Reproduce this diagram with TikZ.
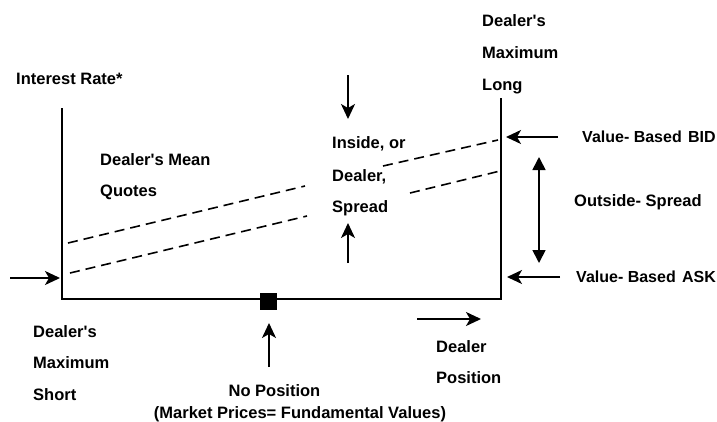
\documentclass[tikz,border=0pt]{standalone}
\usepackage{fontspec}
\setmainfont{Liberation Sans}
\usetikzlibrary{arrows.meta}
\newcommand{\aps}{\textquotesingle}
\begin{document}
\begin{tikzpicture}[x=1pt,y=-1pt,
  lbl/.style={font=\bfseries\fontsize{16.5}{19}\selectfont, inner sep=0pt,
              text height=11.8pt, text depth=0pt, anchor=west},
  quotelbl/.style={lbl, font=\bfseries\fontsize{16}{19}\selectfont},
  mid/.style={lbl, anchor=center},
  axis/.style={line width=1.8pt},
  ptr/.style={line width=1.7pt, -{Stealth[length=15pt,width=14pt,inset=4pt]}},
  quote/.style={line width=1.6pt, dash pattern=on 10pt off 6pt},
  span/.style={line width=1.7pt,
               {Triangle[length=13pt,width=13pt]}-{Triangle[length=13pt,width=13pt]}}]
\useasboundingbox (0,0) rectangle (717,421);

% position axis and the two position limits
\coordinate (tl) at (62,108);
\coordinate (bl) at (62,299);
\coordinate (br) at (501,299);
\coordinate (tr) at (501,98);
\draw[axis] (tl) -- (bl) -- (br) -- (tr);
\node[fill=black, minimum size=17pt, inner sep=0pt] (zero) at (268,301.5) {};

% mean bid and ask quotes
\coordinate (qa1) at (68,243);  \coordinate (qa2) at (305,186);
\coordinate (qa3) at (383,166); \coordinate (qa4) at (498,140);
\coordinate (qb1) at (70,273);  \coordinate (qb2) at (307,216);
\coordinate (qb3) at (410,193); \coordinate (qb4) at (500,171);
\draw[quote] (qa1) -- (qa2) (qa3) -- (qa4);
\draw[quote] (qb1) -- (qb2) (qb3) -- (qb4);

% labels
\node[lbl] (rate)  at (16,79)  {Interest Rate*};
\node[lbl] (mean1) at (100,160) {Dealer\aps s Mean};
\node[lbl] (mean2) at (100,191) {Quotes};
\node[lbl] (long1) at (482,21) {Dealer\aps s};
\node[lbl] (long2) at (482,53) {Maximum};
\node[lbl] (long3) at (482,85) {Long};
\node[lbl] (ins1)  at (332,143) {Inside, or};
\node[lbl] (ins2)  at (332,176) {Dealer,};
\node[lbl] (ins3)  at (332,207) {Spread};
\node[quotelbl] (bid) at (582,137) {Value- Based\hspace{6.4pt}BID};
\node[lbl] (out)   at (574,201) {Outside- Spread};
\node[quotelbl] (ask) at (576,277) {Value- Based\hspace{6.4pt}ASK};
\node[lbl] (short1) at (33,332) {Dealer\aps s};
\node[lbl] (short2) at (33,363) {Maximum};
\node[lbl] (short3) at (33,395) {Short};
\node[mid] (nopos) at (274.5,391) {No Position};
\node[mid] (fund)  at (300,413) {(Market Prices= Fundamental Values)};
\node[lbl] (pos1)  at (436,347) {Dealer};
\node[lbl] (pos2)  at (436,378) {Position};

% pointers
\coordinate (pl0) at (10,278);   \coordinate (pl1) at (60,278);
\coordinate (pd0) at (348,75);   \coordinate (pd1) at (348,119);
\coordinate (pu0) at (348,263);  \coordinate (pu1) at (348,223);
\coordinate (pb0) at (558,137);  \coordinate (pb1) at (506,137);
\coordinate (pa0) at (560,277);  \coordinate (pa1) at (507,277);
\coordinate (pz0) at (269,367);  \coordinate (pz1) at (269,323);
\coordinate (pr0) at (417,319);  \coordinate (pr1) at (481,319);
\coordinate (sp0) at (539,157);  \coordinate (sp1) at (539,263);
\draw[ptr] (pl0) -- (pl1);
\draw[ptr] (pd0) -- (pd1);
\draw[ptr] (pu0) -- (pu1);
\draw[ptr] (pb0) -- (pb1);
\draw[ptr] (pa0) -- (pa1);
\draw[ptr] (pz0) -- (pz1);
\draw[ptr] (pr0) -- (pr1);
\draw[span] (sp0) -- (sp1);
\end{tikzpicture}
\end{document}
